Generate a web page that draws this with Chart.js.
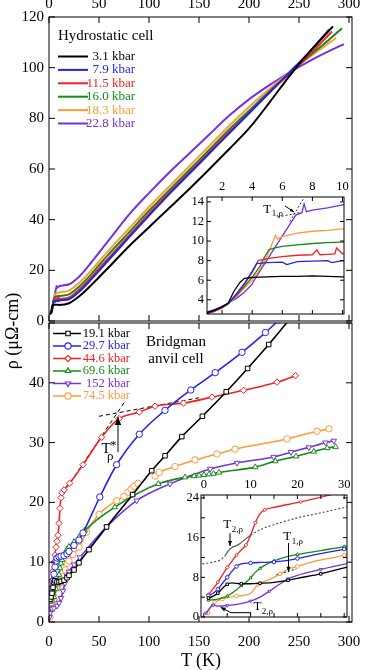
<!DOCTYPE html>
<html>
<head>
<meta charset="utf-8">
<script src="https://cdn.jsdelivr.net/npm/chart.js@4.4.1/dist/chart.umd.min.js"></script>
<style>
body { margin: 0; background: #fff; }
#wrap { position: relative; width: 388px; height: 670px; overflow: hidden; font-family: 'Liberation Serif', 'DejaVu Serif', serif; }
canvas { position: absolute; }
.lbl { position: absolute; font-size: 18px; color: #000; text-align: center; white-space: nowrap; }
</style>
</head>
<body>
<div id="wrap">
<canvas id="top" width="388" height="337" style="left:0;top:0;width:388px;height:337px"></canvas>
<canvas id="bot" width="388" height="361" style="left:0;top:309px;width:388px;height:361px"></canvas>
<canvas id="ins1" width="181" height="150" style="left:175px;top:176px;width:181px;height:150px"></canvas>
<canvas id="ins2" width="191" height="157" style="left:168px;top:472px;width:191px;height:157px"></canvas>
<div class="lbl" style="left:-38px;top:320px;width:100px;height:22px;line-height:22px;transform:rotate(-90deg)">ρ (μΩ-cm)</div>
<div class="lbl" style="left:151px;top:650px;width:100px;line-height:20px">T (K)</div>
</div>
<script>
var SERIF = "'Liberation Serif', 'DejaVu Serif', serif";
Chart.defaults.font.family = SERIF;
Chart.defaults.color = '#000';

var BLACK = '#000000', BLUE = '#2424e8', RED = '#f22222', GREEN = '#168a16',
    ORANGE = '#ff9a3a', PURPLE = '#7232dc', GREY = '#555555';

// ---- hydrostatic cell (top panel + upper inset) ----
var hydroNames = ['3.1 kbar', '7.9 kbar', '11.5 kbar', '16.0 kbar', '18.3 kbar', '22.8 kbar'];
var hydroColors = [BLACK, BLUE, RED, GREEN, ORANGE, PURPLE];

var hT_3p1 = [1, 1.5, 2, 2.4, 2.8, 3.2, 3.5, 4, 5, 6, 7, 8, 9, 10, 20, 30, 40, 50, 60, 80, 100, 120, 140, 160, 180, 200, 220, 240, 260, 284];
var hR_3p1 = [2.7, 2.95, 3.3, 3.65, 4.9, 5.8, 6.2, 6.3, 6.35, 6.4, 6.4, 6.45, 6.4, 6.35, 7.0, 9.7, 13.3, 17.3, 21.3, 29.5, 37.0, 44.5, 52.0, 59.8, 67.8, 76.0, 86.0, 96.5, 106.0, 116.3];

var hT_7p9 = [1, 1.5, 2, 2.4, 3, 3.5, 4, 4.3, 4.6, 5, 6, 6.3, 7, 8, 9, 9.3, 10, 20, 30, 40, 50, 60, 80, 100, 120, 140, 160, 180, 200, 220, 240, 260, 280];
var hR_7p9 = [2.65, 2.9, 3.25, 3.6, 4.7, 5.7, 6.9, 7.7, 7.75, 7.8, 7.85, 7.6, 7.9, 7.95, 8.0, 7.8, 8.0, 8.6, 11.5, 15.5, 19.8, 24.2, 33.0, 41.6, 50.0, 58.0, 66.0, 74.0, 82.0, 90.0, 98.0, 106.0, 115.0];

var hT_11p5 = [1, 1.5, 2, 2.4, 3, 3.5, 4, 4.4, 5, 6, 7, 8, 8.3, 8.5, 9, 9.5, 9.6, 10, 20, 30, 40, 50, 60, 80, 100, 120, 140, 160, 180, 200, 220, 240, 260, 283];
var hR_11p5 = [2.6, 2.85, 3.2, 3.6, 4.6, 5.6, 6.8, 8.0, 8.2, 8.4, 8.55, 8.6, 9.1, 8.6, 8.65, 8.7, 9.3, 8.7, 9.3, 12.3, 16.3, 20.7, 25.0, 33.7, 42.3, 50.5, 58.5, 66.5, 74.5, 82.0, 90.0, 97.5, 105.0, 114.3];

var hT_16p0 = [1, 1.5, 2, 2.4, 3, 3.5, 4, 4.5, 4.8, 5.1, 5.5, 6, 7, 8, 9, 10, 20, 30, 40, 50, 60, 80, 100, 120, 140, 160, 180, 200, 220, 240, 260, 280, 293];
var hR_16p0 = [2.6, 2.85, 3.2, 3.6, 4.5, 5.4, 6.3, 7.4, 8.3, 9.1, 9.3, 9.45, 9.6, 9.75, 9.85, 9.9, 10.5, 13.5, 17.5, 22.0, 26.5, 35.0, 43.5, 51.5, 59.5, 67.5, 75.5, 83.0, 90.5, 97.5, 104.5, 111.0, 115.6];

var hT_18p3 = [1, 1.5, 2, 2.4, 3, 3.5, 4, 4.5, 5, 5.4, 5.55, 5.7, 6, 7, 8, 9, 10, 20, 30, 40, 50, 60, 80, 100, 120, 140, 160, 180, 200, 220, 240, 260, 287];
var hR_18p3 = [2.55, 2.8, 3.15, 3.6, 4.4, 5.2, 6.0, 7.1, 8.5, 10.0, 10.6, 10.2, 10.45, 10.8, 11.0, 11.1, 11.25, 12.0, 15.0, 19.0, 23.5, 28.0, 36.5, 45.0, 53.0, 61.0, 69.0, 77.0, 84.5, 91.5, 98.0, 104.0, 111.7];

var hT_22p8 = [1, 1.5, 2, 2.4, 3, 3.5, 4, 4.1, 4.5, 5, 5.5, 6, 6.5, 6.9, 7.3, 7.45, 7.6, 8, 9, 10, 20, 30, 40, 50, 60, 80, 100, 120, 140, 160, 180, 200, 220, 240, 260, 280, 295];
var hR_22p8 = [2.75, 3.0, 3.3, 3.65, 4.2, 4.8, 5.6, 5.9, 6.9, 8.1, 9.3, 10.5, 11.7, 12.65, 12.9, 13.8, 13.0, 13.15, 13.4, 13.7, 14.5, 17.5, 22.0, 27.0, 32.0, 42.0, 50.5, 58.5, 66.0, 73.5, 81.0, 87.5, 93.0, 98.0, 102.5, 106.5, 109.3];

var hydroT = [hT_3p1, hT_7p9, hT_11p5, hT_16p0, hT_18p3, hT_22p8];
var hydroR = [hR_3p1, hR_7p9, hR_11p5, hR_16p0, hR_18p3, hR_22p8];

// T1,rho construction lines in upper inset
var kinkSteepT = [6.5, 7.4], kinkSteepR = [12.0, 14.3];
var kinkFlatT = [5.7, 7.3], kinkFlatR = [12.45, 12.95];

// ---- Bridgman anvil cell (bottom panel + lower inset) ----
var bridgNames = ['19.1 kbar', '29.7 kbar', '44.6 kbar', '69.6 kbar', '152 kbar', '74.5 kbar'];
var bridgColors = [BLACK, BLUE, RED, GREEN, PURPLE, ORANGE];
var bridgMarks = ['rect', 'circle', 'rectRot', 'triangle', 'triangle', 'circle'];
var bridgRot = [0, 0, 0, 0, 180, 0];

var bT_19p1 = [1, 2, 3, 4, 5, 6, 8, 10, 12, 15, 18, 20, 25, 30, 40, 57.6, 83.6, 102.7, 116, 132.8, 153.4, 177.2, 198.6, 219.7, 240];
var bR_19p1 = [3.8, 4.2, 4.8, 5.8, 6.6, 6.9, 6.7, 6.7, 6.8, 7.0, 7.4, 7.8, 8.7, 9.9, 12.1, 15.9, 21.3, 25.3, 27.8, 31.0, 34.4, 38.5, 42.4, 46.4, 50.5];

var bT_29p7 = [1, 2, 3, 4, 5, 6, 7, 8, 10, 12, 15, 18, 20, 25, 30, 34, 50.8, 67.6, 90.3, 116, 141.8, 166.2, 193, 216.4, 230];
var bR_29p7 = [4.3, 4.8, 5.6, 6.8, 8.0, 9.2, 10.2, 10.7, 10.9, 11.0, 11.1, 11.4, 11.8, 12.8, 13.7, 14.9, 20.9, 26.3, 31.4, 35.4, 38.8, 41.7, 45.1, 48.4, 50.5];

var bT_44p6 = [1, 2, 3, 4, 5, 6, 7, 8, 9, 10, 11, 12, 13, 15, 20.7, 34, 52.6, 70, 90.3, 106, 134.5, 163, 194.6, 228, 246.5];
var bR_44p6 = [4.5, 5.7, 7.0, 8.5, 10.0, 11.2, 12.5, 13.5, 14.5, 16.5, 19.0, 20.8, 21.6, 22.1, 23.2, 26.3, 30.9, 34.0, 35.1, 36.1, 36.6, 37.6, 38.75, 40.1, 41.2];

var bT_69p6 = [1, 3, 5, 7, 8, 9, 10, 11, 12, 13, 15, 18, 20, 25, 30, 35.7, 65.8, 109.3, 136, 145, 150, 155, 160, 164.5, 170, 206.3, 226.4, 247, 264.8, 278.2, 286.6];
var bR_69p6 = [3.4, 3.6, 4.2, 5.5, 6.3, 7.0, 7.9, 9.0, 9.8, 10.4, 11.3, 12.2, 12.6, 13.4, 14.2, 15.3, 19.2, 23.1, 24.2, 24.4, 24.5, 24.6, 24.7, 24.8, 25.0, 25.9, 26.9, 27.7, 28.5, 29.1, 29.3];

var bT_152 = [0.5, 1, 2, 3, 5, 8, 10, 12, 14, 16, 18, 20, 25, 30.8, 57.6, 87.7, 121, 161.2, 188, 224.7, 242, 259.8, 276.5, 284.8];
var bR_152 = [0.8, 1.5, 2.4, 2.2, 2.3, 2.7, 3.2, 4.0, 5.2, 6.5, 7.7, 8.4, 9.6, 10.8, 15.9, 20.3, 23.1, 25.6, 26.6, 27.6, 28.4, 29.2, 30.0, 30.3];

var bT_74p5 = [0.9, 1.5, 2.3, 3, 4, 5, 7, 10, 11.6, 14.1, 16.3, 18.4, 20, 24, 30, 37.5, 50, 67.6, 75, 79, 82, 85, 89, 97, 106, 110.3, 126, 146, 168, 186, 238, 268, 280];
var bR_74p5 = [0.8, 2.0, 3.0, 3.3, 3.6, 3.9, 4.2, 4.8, 6.6, 7.6, 8.7, 9.8, 10.2, 11.3, 12.5, 15.0, 18.0, 20.3, 21.0, 21.7, 22.2, 22.7, 23.2, null, 24.4, 25.0, 26.0, 27.1, 28.1, 28.9, 30.6, 31.9, 32.3];

var bridgT = [bT_19p1, bT_29p7, bT_44p6, bT_69p6, bT_152, bT_74p5];
var bridgR = [bR_19p1, bR_29p7, bR_44p6, bR_69p6, bR_152, bR_74p5];

// T* construction lines
var tStarSteepT = [18, 76], tStarSteepR = [22.5, 36.9];
var tStarFlatT = [50, 150], tStarFlatR = [34.4, 37.5];

// grey dotted curve of lower inset
var greyT = [-0.3, 1, 2, 3, 3.5, 4.5, 5.2, 6, 7, 8, 9, 10, 12, 15, 20, 25, 30.6];
var greyR = [10.7, 10.9, 11.1, 11.3, 11.5, 12.3, 13.3, 14.0, 14.4, 15.0, 15.8, 16.5, 17.6, 18.6, 20.0, 21.0, 22.2];
var t1TangentT = [15.5, 19.8], t1TangentR = [8.5, 9.7];

function pts(xs, ys) {
    var out = [];
    for (var i = 0; i < xs.length; i++) out.push({x: xs[i], y: ys[i]});
    return out;
}

function axis(o) {
    return {
        type: 'linear', position: o.pos, min: o.min, max: o.max,
        grid: {display: false, drawTicks: false},
        border: {display: false},
        ticks: {
            stepSize: o.step, includeBounds: false, padding: o.pad, autoSkip: false, maxRotation: 0,
            color: '#000', font: {size: o.size, family: SERIF},
            callback: o.cb || function(v) { return String(Math.round(v * 100) / 100); }
        },
        afterFit: function(s) { if (s.isHorizontal()) s.height = o.fit; else s.width = o.fit; }
    };
}

// frame + inward tick marks on all four sides
var framePlugin = {
    id: 'frame',
    beforeDatasetsDraw: function(chart, args, opts) {
        if (!opts.white) return;
        var a = chart.chartArea, ctx = chart.ctx;
        ctx.save();
        ctx.fillStyle = '#fff';
        ctx.fillRect(a.left, a.top, a.right - a.left, a.bottom - a.top);
        ctx.restore();
    },
    afterDraw: function(chart, args, opts) {
        var a = chart.chartArea, ctx = chart.ctx, L = opts.len || 5;
        var xs = chart.scales.x, ys = chart.scales.y;
        ctx.save();
        ctx.strokeStyle = '#000';
        ctx.lineWidth = 1;
        ctx.strokeRect(a.left, a.top, a.right - a.left, a.bottom - a.top);
        ctx.beginPath();
        xs.ticks.forEach(function(t) {
            var p = xs.getPixelForValue(t.value);
            ctx.moveTo(p, a.bottom); ctx.lineTo(p, a.bottom - L);
            ctx.moveTo(p, a.top); ctx.lineTo(p, a.top + L);
        });
        ys.ticks.forEach(function(t) {
            var p = ys.getPixelForValue(t.value);
            ctx.moveTo(a.left, p); ctx.lineTo(a.left + L, p);
            ctx.moveTo(a.right, p); ctx.lineTo(a.right - L, p);
        });
        ctx.stroke();
        ctx.restore();
    }
};

function marker(ctx, style, rot, x, y, r, color) {
    ctx.save();
    ctx.strokeStyle = color; ctx.fillStyle = '#fff'; ctx.lineWidth = 1.1;
    ctx.beginPath();
    if (style === 'rect') {
        var s = r * Math.SQRT1_2;
        ctx.rect(x - s, y - s, 2 * s, 2 * s);
    } else if (style === 'rectRot') {
        ctx.moveTo(x, y - r); ctx.lineTo(x + r, y); ctx.lineTo(x, y + r); ctx.lineTo(x - r, y); ctx.closePath();
    } else if (style === 'triangle') {
        var d = rot === 180 ? -1 : 1;
        ctx.moveTo(x, y - d * r); ctx.lineTo(x + r * 0.87, y + d * r * 0.5); ctx.lineTo(x - r * 0.87, y + d * r * 0.5); ctx.closePath();
    } else {
        ctx.arc(x, y, r, 0, Math.PI * 2);
    }
    ctx.fill(); ctx.stroke();
    ctx.restore();
}

function subText(ctx, x, y, main, sub, size) {
    ctx.textAlign = 'left'; ctx.textBaseline = 'alphabetic'; ctx.fillStyle = '#000';
    ctx.font = size + 'px ' + SERIF;
    ctx.fillText(main, x, y);
    var w = ctx.measureText(main).width;
    ctx.font = Math.round(size * 0.72) + 'px ' + SERIF;
    ctx.fillText(sub, x + w + 0.5, y + size * 0.28);
}

function arrow(ctx, pts2, head) {
    ctx.save();
    ctx.strokeStyle = '#000'; ctx.fillStyle = '#000'; ctx.lineWidth = 1;
    ctx.beginPath();
    ctx.moveTo(pts2[0][0], pts2[0][1]);
    for (var i = 1; i < pts2.length; i++) ctx.lineTo(pts2[i][0], pts2[i][1]);
    ctx.stroke();
    var n = pts2.length, x2 = pts2[n - 1][0], y2 = pts2[n - 1][1];
    var ang = Math.atan2(y2 - pts2[n - 2][1], x2 - pts2[n - 2][0]);
    ctx.beginPath();
    ctx.moveTo(x2, y2);
    ctx.lineTo(x2 - head * Math.cos(ang) + head * 0.4 * Math.sin(ang), y2 - head * Math.sin(ang) - head * 0.4 * Math.cos(ang));
    ctx.lineTo(x2 - head * Math.cos(ang) - head * 0.4 * Math.sin(ang), y2 - head * Math.sin(ang) + head * 0.4 * Math.cos(ang));
    ctx.closePath();
    ctx.fill();
    ctx.restore();
}

function baseOptions(pad, xs, ys, frameOpts) {
    return {
        responsive: false, animation: false, devicePixelRatio: 1,
        layout: {padding: pad},
        plugins: {legend: {display: false}, tooltip: {enabled: false}, frame: frameOpts},
        scales: {x: xs, y: ys}
    };
}

function lineSet(xs, ys, color, width, extra) {
    var d = {
        data: pts(xs, ys), borderColor: color, backgroundColor: color, borderWidth: width,
        pointRadius: 0, fill: false, cubicInterpolationMode: 'monotone', spanGaps: false
    };
    for (var k in extra) d[k] = extra[k];
    return d;
}

// ---------------- top panel ----------------
var hydroLegend = {
    id: 'hydroLegend',
    afterDraw: function(chart) {
        var ctx = chart.ctx;
        ctx.save();
        ctx.fillStyle = '#000'; ctx.textBaseline = 'middle'; ctx.textAlign = 'left';
        ctx.font = '15px ' + SERIF;
        ctx.fillText('Hydrostatic cell', 58, 36);
        ctx.font = '13px ' + SERIF;
        for (var i = 0; i < hydroNames.length; i++) {
            var y = 56.5 + i * 13.4;
            ctx.strokeStyle = hydroColors[i]; ctx.lineWidth = 2;
            ctx.beginPath(); ctx.moveTo(58, y); ctx.lineTo(88, y); ctx.stroke();
            ctx.fillStyle = hydroColors[i]; ctx.textAlign = 'right';
            ctx.fillText(hydroNames[i], 135, y);
        }
        ctx.restore();
    }
};

var topSets = [];
for (var i = 0; i < hydroT.length; i++) topSets.push(lineSet(hydroT[i], hydroR[i], hydroColors[i], 2, {}));

new Chart(document.getElementById('top'), {
    type: 'line',
    data: {datasets: topSets},
    options: baseOptions({left: 0, right: 36, top: 0, bottom: 16},
        axis({pos: 'top', min: 0, max: 303, step: 50, pad: 4, size: 15, fit: 17}),
        axis({pos: 'left', min: 0, max: 120, step: 20, pad: 5, size: 15, fit: 49}),
        {len: 6}),
    plugins: [framePlugin, hydroLegend]
});

// ---------------- bottom panel ----------------
var BOT_Y = 309;
var bridgNotes = {
    id: 'bridgNotes',
    afterDraw: function(chart) {
        var ctx = chart.ctx, xs = chart.scales.x, ys = chart.scales.y;
        ctx.save();
        ctx.textBaseline = 'middle'; ctx.textAlign = 'left';
        ctx.font = '12.5px ' + SERIF;
        for (var i = 0; i < bridgNames.length; i++) {
            var y = 333.5 + i * 12.5 - BOT_Y;
            ctx.strokeStyle = bridgColors[i]; ctx.lineWidth = 1.5;
            ctx.beginPath(); ctx.moveTo(53, y); ctx.lineTo(81, y); ctx.stroke();
            marker(ctx, bridgMarks[i], bridgRot[i], 68, y, 3.1, bridgColors[i]);
            ctx.fillStyle = bridgColors[i]; ctx.textAlign = 'right';
            ctx.fillText(bridgNames[i], 130, y);
        }
        ctx.fillStyle = '#000'; ctx.textAlign = 'center';
        ctx.font = '15px ' + SERIF;
        ctx.fillText('Bridgman', 176, 341.7 - BOT_Y);
        ctx.fillText('anvil cell', 176, 359.3 - BOT_Y);
        // T* marker
        var ax = xs.getPixelForValue(69), ay0 = ys.getPixelForValue(28.4), ay1 = ys.getPixelForValue(34.3);
        arrow(ctx, [[ax, ay0], [ax, ay1]], 8);
        ctx.textAlign = 'left'; ctx.textBaseline = 'alphabetic';
        ctx.font = '15px ' + SERIF;
        ctx.fillText('T', ax - 16.5, ay0 + 1);
        ctx.font = '13px ' + SERIF;
        ctx.fillText('*', ax - 8, ay0 - 3);
        ctx.fillText('ρ', ax - 11, ay0 + 8);
        ctx.restore();
    }
};

function bridgSets(radius, width, every) {
    var sets = [];
    for (var i = 0; i < bridgT.length; i++) {
        sets.push(lineSet(bridgT[i], bridgR[i], bridgColors[i], width, {
            pointStyle: bridgMarks[i], pointRotation: bridgRot[i],
            pointRadius: function(c) { return c.index % every === 0 ? radius : 0; },
            pointBackgroundColor: '#fff', pointBorderColor: bridgColors[i], pointBorderWidth: 1
        }));
    }
    return sets;
}

var botSets = bridgSets(3.2, 1.6, 1);
botSets.push(lineSet(tStarSteepT, tStarSteepR, '#000', 1, {borderDash: [4, 3]}));
botSets.push(lineSet(tStarFlatT, tStarFlatR, '#000', 1, {borderDash: [4, 3]}));

new Chart(document.getElementById('bot'), {
    type: 'line',
    data: {datasets: botSets},
    options: baseOptions({left: 0, right: 36, top: 12, bottom: 0},
        axis({pos: 'bottom', min: 0, max: 303, step: 50, pad: 11, size: 15, fit: 48}),
        axis({pos: 'left', min: 0, max: 50, step: 10, pad: 5, size: 15, fit: 49,
              cb: function(v) { return v >= 50 ? '' : String(v); }}),
        {len: 6}),
    plugins: [framePlugin, bridgNotes]
});

// ---------------- upper inset ----------------
var ins1Notes = {
    id: 'ins1Notes',
    afterDraw: function(chart) {
        var ctx = chart.ctx, xs = chart.scales.x, ys = chart.scales.y;
        ctx.save();
        subText(ctx, xs.getPixelForValue(4.74), ys.getPixelForValue(12.9), 'T', '1,ρ', 13);
        arrow(ctx, [[xs.getPixelForValue(6.18), ys.getPixelForValue(13.58)],
                    [xs.getPixelForValue(6.78), ys.getPixelForValue(12.97)]], 4);
        ctx.restore();
    }
};

var in1Sets = [];
for (var i = 0; i < hydroT.length; i++) in1Sets.push(lineSet(hydroT[i], hydroR[i], hydroColors[i], 1.3, {cubicInterpolationMode: 'default', tension: 0}));
in1Sets.push(lineSet(kinkSteepT, kinkSteepR, '#333', 1, {borderDash: [2, 2]}));
in1Sets.push(lineSet(kinkFlatT, kinkFlatR, '#333', 1, {borderDash: [2, 2]}));

new Chart(document.getElementById('ins1'), {
    type: 'line',
    data: {datasets: in1Sets},
    options: baseOptions({left: 0, right: 12, top: 0, bottom: 12},
        axis({pos: 'top', min: 1, max: 10.1, step: 2, pad: 3, size: 12.5, fit: 21}),
        axis({pos: 'left', min: 2.55, max: 14.5, step: 2, pad: 3, size: 12.5, fit: 32}),
        {len: 4, white: true}),
    plugins: [framePlugin, ins1Notes]
});

// ---------------- lower inset ----------------
var ins2Notes = {
    id: 'ins2Notes',
    afterDraw: function(chart) {
        var ctx = chart.ctx, xs = chart.scales.x, ys = chart.scales.y;
        function P(t, r) { return [xs.getPixelForValue(t), ys.getPixelForValue(r)]; }
        ctx.save();
        var p = P(4.17, 17.85);
        subText(ctx, p[0], p[1], 'T', '2,ρ', 13);
        arrow(ctx, [P(5.6, 16.9), P(5.6, 14.3)], 5);
        p = P(17.0, 15.5);
        subText(ctx, p[0], p[1], 'T', '1,ρ', 13);
        arrow(ctx, [P(18.1, 14.9), P(18.1, 9.1)], 5);
        p = P(10.6, 1.4);
        subText(ctx, p[0], p[1], 'T', '2,ρ', 13);
        arrow(ctx, [P(10.1, 0.87), P(5.8, 0.87), P(3.6, 1.95)], 5);
        ctx.restore();
    }
};

var in2Sets = bridgSets(1.8, 1.3, 2);
in2Sets.push(lineSet(greyT, greyR, GREY, 1.2, {
    segment: {borderDash: function(c) { return (c.p0.parsed.x >= 4.5 && c.p1.parsed.x <= 10) ? undefined : [2, 2]; }}
}));
in2Sets.push(lineSet(t1TangentT, t1TangentR, '#000', 1, {borderDash: [2, 2]}));

new Chart(document.getElementById('ins2'), {
    type: 'line',
    data: {datasets: in2Sets},
    options: baseOptions({left: 0, right: 12, top: 0, bottom: 12},
        axis({pos: 'top', min: -0.6, max: 30.6, step: 5, pad: 3, size: 12.5, fit: 23,
              cb: function(v) { return v % 10 === 0 ? String(v) : ''; }}),
        axis({pos: 'left', min: 0, max: 24.6, step: 4, pad: 2, size: 12.5, fit: 33,
              cb: function(v) { return v % 8 === 0 ? String(v) : ''; }}),
        {len: 4, white: true}),
    plugins: [framePlugin, ins2Notes]
});
</script>
</body>
</html>
